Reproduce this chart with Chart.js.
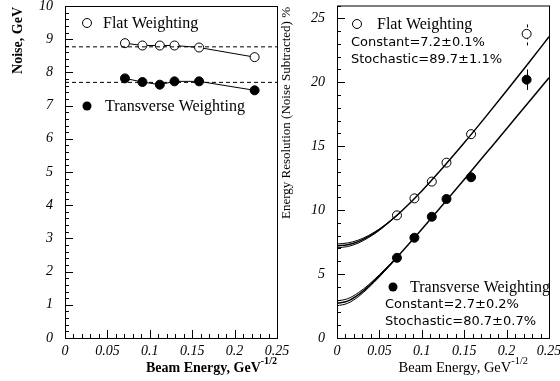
<!DOCTYPE html>
<html>
<head>
<meta charset="utf-8">
<script src="https://cdn.jsdelivr.net/npm/chart.js@4.4.1/dist/chart.umd.min.js"></script>
<style>
  body { margin: 0; background: #fff; }
  #wrap { position: relative; width: 560px; height: 381px; }
  canvas { position: absolute; top: 0; }
</style>
</head>
<body>
<div id="wrap">
  <canvas id="noiseChart" width="300" height="381" style="left:0"></canvas>
  <canvas id="resChart" width="280" height="381" style="left:280px"></canvas>
</div>
<script>
// beam energy as 1/sqrt(E), for 200, 120, 80, 60, 40, 20 GeV
const energyX = [0.0707, 0.0913, 0.1118, 0.1291, 0.1581, 0.2236];

// left panel: noise
const noiseFlat = [8.88, 8.81, 8.81, 8.81, 8.75, 8.46];
const noiseTrans = [7.82, 7.71, 7.63, 7.73, 7.73, 7.46];
const noiseFlatMean = 8.77;
const noiseTransMean = 7.70;

// right panel: resolution
const resFlat = [9.59, 10.92, 12.23, 13.71, 15.94, 23.78];
const resTrans = [6.27, 7.84, 9.48, 10.87, 12.57, 20.20];
const resFlatErr = [0, 0, 0, 0, 0, 0.9];
const resTransErr = [0, 0, 0, 0, 0, 0.8];

// fit curves
const fitX = [0, 0.0125, 0.025, 0.0375, 0.05, 0.0625, 0.075, 0.1, 0.125, 0.15, 0.175, 0.2, 0.225, 0.25];
const flatFit = [7.20, 7.29, 7.54, 7.95, 8.48, 9.13, 9.85, 11.50, 13.33, 15.26, 17.27, 19.33, 21.43, 23.55];
const flatFitHi = [7.35, 7.43, 7.65, 8.03, 8.53, 9.15, 9.86];
const flatFitLo = [7.05, 7.15, 7.42, 7.86, 8.42, 9.10, 9.84];
const transFit = [2.70, 2.88, 3.37, 4.06, 4.86, 5.72, 6.63, 8.51, 10.44, 12.40, 14.38, 16.36, 18.36, 20.35];
const transFitHi = [2.90, 3.07, 3.53, 4.18, 4.95, 5.78, 6.66];
const transFitLo = [2.52, 2.71, 3.22, 3.95, 4.78, 5.67, 6.60];

const xTicks = [0, 0.05, 0.1, 0.15, 0.2, 0.25];

const SERIF = "'Liberation Serif', 'Times New Roman', serif";
const SANS = "'DejaVu Sans', sans-serif";

function pts(xs, ys) {
  return ys.map((y, i) => ({ x: xs[i], y: y }));
}

function hline(x0, x1, y) {
  return [{ x: x0, y: y }, { x: x1, y: y }];
}

// frame + inward ticks (major and minor), like the original plot style
function drawFrame(chart, yMinor, yMajor) {
  const ctx = chart.ctx;
  const a = chart.chartArea;
  const xs = chart.scales.x, ys = chart.scales.y;
  ctx.save();
  ctx.strokeStyle = "#000";
  ctx.lineWidth = 1;
  ctx.strokeRect(a.left + 0.5, a.top + 0.5, a.right - a.left, a.bottom - a.top);
  ctx.beginPath();
  for (let i = 0; i <= 25; i++) {
    const v = i * 0.01;
    const px = Math.round(xs.getPixelForValue(v)) + 0.5;
    const len = i % 5 === 0 ? 8 : 4;
    ctx.moveTo(px, a.bottom);
    ctx.lineTo(px, a.bottom - len);
  }
  const n = Math.round((ys.max - ys.min) / yMinor);
  for (let i = 0; i <= n; i++) {
    const v = ys.min + i * yMinor;
    const py = Math.round(ys.getPixelForValue(v)) + 0.5;
    const major = Math.abs(v / yMajor - Math.round(v / yMajor)) < 1e-6;
    ctx.moveTo(a.left, py);
    ctx.lineTo(a.left + (major ? 8 : 4), py);
  }
  ctx.stroke();
  ctx.restore();
}

function xTitle(ctx, right, base, weight, size) {
  ctx.save();
  ctx.fillStyle = "#000";
  ctx.textBaseline = "alphabetic";
  ctx.font = weight + " " + (size * 0.72).toFixed(1) + "px " + SERIF;
  const sup = "-1/2";
  const supW = ctx.measureText(sup).width;
  ctx.textAlign = "left";
  ctx.fillText(sup, right - supW, base - size * 0.55);
  ctx.font = weight + " " + size + "px " + SERIF;
  ctx.textAlign = "right";
  ctx.fillText("Beam Energy, GeV", right - supW, base);
  ctx.restore();
}

function yTitle(ctx, x, top, text, font) {
  ctx.save();
  ctx.translate(x, top);
  ctx.rotate(-Math.PI / 2);
  ctx.fillStyle = "#000";
  ctx.font = font;
  ctx.textAlign = "right";
  ctx.textBaseline = "middle";
  ctx.fillText(text, 0, 0);
  ctx.restore();
}

function marker(ctx, x, y, filled) {
  ctx.beginPath();
  ctx.arc(x, y, 4.5, 0, Math.PI * 2);
  if (filled) { ctx.fillStyle = "#000"; ctx.fill(); }
  else { ctx.fillStyle = "#fff"; ctx.fill(); ctx.strokeStyle = "#000"; ctx.lineWidth = 1; ctx.stroke(); }
}

function label(ctx, text, x, y, font) {
  ctx.fillStyle = "#000";
  ctx.font = font;
  ctx.textAlign = "left";
  ctx.textBaseline = "middle";
  ctx.fillText(text, x, y);
}

const noPad = s => { s.paddingLeft = 0; s.paddingRight = 0; s.paddingTop = 0; s.paddingBottom = 0; };

function xAxis() {
  return {
    type: "linear",
    min: 0,
    max: 0.25,
    grid: { display: false, drawTicks: false },
    border: { display: false },
    afterBuildTicks: s => { s.ticks = xTicks.map(v => ({ value: v })); },
    ticks: {
      padding: 5,
      maxRotation: 0,
      autoSkip: false,
      color: "#000",
      font: { family: SERIF, size: 14, style: "italic" },
      callback: v => String(+v.toFixed(2))
    },
    afterFit: s => { s.height = 43; noPad(s); }
  };
}

function yAxis(max, step, width) {
  return {
    min: 0,
    max: max,
    grid: { display: false, drawTicks: false },
    border: { display: false },
    ticks: {
      stepSize: step,
      includeBounds: false,
      padding: 12,
      color: "#000",
      font: { family: SERIF, size: 14, style: "italic" }
    },
    afterFit: s => { s.width = width; noPad(s); }
  };
}

const pointStyle = (filled) => ({
  pointRadius: 4.5,
  pointHoverRadius: 4.5,
  pointBackgroundColor: filled ? "#000" : "#fff",
  pointBorderColor: "#000",
  pointBorderWidth: 1
});

const noisePlugin = {
  id: "noiseDecor",
  afterDraw(chart) {
    const ctx = chart.ctx;
    drawFrame(chart, 0.2, 1);
    yTitle(ctx, 18, 7, "Noise, GeV", "bold 14px " + SERIF);
    xTitle(ctx, 277, 372, "bold", 14);
    ctx.save();
    marker(ctx, 87, 23, false);
    label(ctx, "Flat Weighting", 103, 24, "16px " + SERIF);
    marker(ctx, 87, 106, true);
    label(ctx, "Transverse Weighting", 105, 107, "16px " + SERIF);
    ctx.restore();
  }
};

new Chart(document.getElementById("noiseChart").getContext("2d"), {
  type: "scatter",
  data: {
    datasets: [
      { data: hline(0, 0.25, noiseFlatMean), showLine: true, borderColor: "#000", borderWidth: 1, borderDash: [4, 3], pointRadius: 0 },
      { data: hline(0, 0.25, noiseTransMean), showLine: true, borderColor: "#000", borderWidth: 1, borderDash: [4, 3], pointRadius: 0 },
      Object.assign({ data: pts(energyX, noiseFlat), showLine: true, borderColor: "#000", borderWidth: 1 }, pointStyle(false)),
      Object.assign({ data: pts(energyX, noiseTrans), showLine: true, borderColor: "#000", borderWidth: 1 }, pointStyle(true))
    ]
  },
  options: {
    responsive: false,
    animation: false,
    layout: { padding: { top: 6, right: 23, left: 0, bottom: 0 } },
    plugins: { legend: { display: false }, tooltip: { enabled: false } },
    scales: {
      x: xAxis(),
      y: yAxis(10, 1, 65)
    }
  },
  plugins: [noisePlugin]
});

const resPlugin = {
  id: "resDecor",
  beforeDatasetsDraw(chart) {
    const ctx = chart.ctx;
    const xs = chart.scales.x, ys = chart.scales.y;
    ctx.save();
    ctx.strokeStyle = "#000";
    ctx.lineWidth = 1;
    energyX.forEach((x, i) => {
      const px = Math.round(xs.getPixelForValue(x)) + 0.5;
      if (resFlatErr[i] > 0) {
        ctx.setLineDash([3, 3]);
        ctx.beginPath();
        ctx.moveTo(px, ys.getPixelForValue(resFlat[i] - resFlatErr[i]));
        ctx.lineTo(px, ys.getPixelForValue(resFlat[i] + resFlatErr[i]));
        ctx.stroke();
      }
      if (resTransErr[i] > 0) {
        ctx.setLineDash([]);
        ctx.beginPath();
        ctx.moveTo(px, ys.getPixelForValue(resTrans[i] - resTransErr[i]));
        ctx.lineTo(px, ys.getPixelForValue(resTrans[i] + resTransErr[i]));
        ctx.stroke();
      }
    });
    ctx.restore();
  },
  afterDraw(chart) {
    const ctx = chart.ctx;
    drawFrame(chart, 1, 5);
    yTitle(ctx, 7, 7, "Energy Resolution (Noise Subtracted) %", "13px " + SERIF);
    xTitle(ctx, 248, 372, "normal", 14.5);
    ctx.save();
    marker(ctx, 77, 24, false);
    label(ctx, "Flat Weighting", 97, 25, "16px " + SERIF);
    label(ctx, "Constant=7.2\u00b10.1%", 71, 43, "13px " + SANS);
    label(ctx, "Stochastic=89.7\u00b11.1%", 71, 60, "13px " + SANS);
    marker(ctx, 113, 287, true);
    label(ctx, "Transverse Weighting", 130, 288, "16px " + SERIF);
    label(ctx, "Constant=2.7\u00b10.2%", 105, 305, "13px " + SANS);
    label(ctx, "Stochastic=80.7\u00b10.7%", 105, 322, "13px " + SANS);
    ctx.restore();
  }
};

const fitLine = (ys) => ({
  data: pts(fitX, ys),
  showLine: true,
  borderColor: "#000",
  borderWidth: 1,
  pointRadius: 0,
  cubicInterpolationMode: "monotone"
});

new Chart(document.getElementById("resChart").getContext("2d"), {
  type: "scatter",
  data: {
    datasets: [
      fitLine(flatFitHi),
      fitLine(flatFitLo),
      Object.assign(fitLine(flatFit), { borderWidth: 1.5 }),
      fitLine(transFitHi),
      fitLine(transFitLo),
      Object.assign(fitLine(transFit), { borderWidth: 1.5 }),
      Object.assign({ data: pts(energyX, resFlat), showLine: false }, pointStyle(false)),
      Object.assign({ data: pts(energyX, resTrans), showLine: false }, pointStyle(true))
    ]
  },
  options: {
    responsive: false,
    animation: false,
    layout: { padding: { top: 5, right: 11, left: 0, bottom: 0 } },
    plugins: { legend: { display: false }, tooltip: { enabled: false } },
    scales: {
      x: xAxis(),
      y: yAxis(26, 5, 57)
    }
  },
  plugins: [resPlugin]
});
</script>
</body>
</html>
